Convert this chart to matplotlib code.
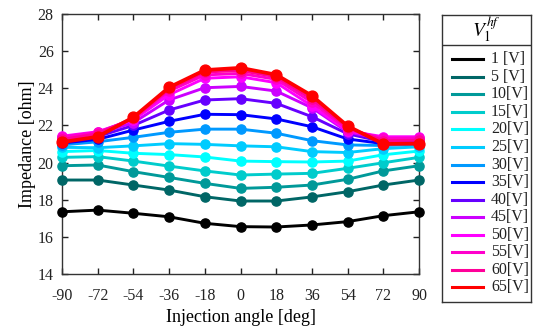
import matplotlib
matplotlib.use("Agg")
import matplotlib.pyplot as plt
from matplotlib.lines import Line2D

angles = [-90, -72, -54, -36, -18, 0, 18, 36, 54, 72, 90]
labels = ["1 [V]", "5 [V]", "10[V]", "15[V]", "20[V]", "25[V]", "30[V]",
          "35[V]", "40[V]", "45[V]", "50[V]", "55[V]", "60[V]", "65[V]"]
colors = ["#000000", "#006666", "#009999", "#00cccc", "#00ffff", "#00ccff",
          "#0099ff", "#0000ff", "#6600ff", "#cc00ff", "#ff00ff", "#ff00cc",
          "#ff0099", "#ff0000"]

v1 = [17.35, 17.44, 17.27, 17.08, 16.73, 16.55, 16.53, 16.64, 16.82, 17.14, 17.35]
v5 = [19.06, 19.06, 18.79, 18.52, 18.16, 17.93, 17.93, 18.15, 18.43, 18.79, 19.06]
v10 = [19.83, 19.87, 19.51, 19.20, 18.88, 18.61, 18.67, 18.79, 19.10, 19.55, 19.83]
v15 = [20.28, 20.32, 20.08, 19.81, 19.55, 19.33, 19.38, 19.42, 19.69, 19.99, 20.28]
v20 = [20.59, 20.65, 20.50, 20.43, 20.30, 20.08, 20.05, 20.03, 20.08, 20.42, 20.62]
v25 = [20.82, 20.80, 20.90, 21.02, 20.98, 20.90, 20.85, 20.59, 20.54, 20.75, 20.85]
v30 = [20.95, 21.12, 21.36, 21.63, 21.80, 21.80, 21.58, 21.18, 20.95, 20.92, 20.98]
v35 = [21.05, 21.25, 21.75, 22.22, 22.60, 22.58, 22.35, 21.93, 21.27, 21.02, 21.05]
v40 = [21.15, 21.40, 22.00, 22.83, 23.37, 23.44, 23.19, 22.47, 21.55, 21.12, 21.12]
v45 = [21.30, 21.55, 22.15, 23.37, 24.03, 24.10, 23.85, 22.95, 21.65, 21.25, 21.25]
v50 = [21.42, 21.66, 22.30, 23.65, 24.54, 24.62, 24.30, 23.05, 21.70, 21.39, 21.39]
v55 = [21.38, 21.62, 22.35, 23.85, 24.72, 24.80, 24.48, 23.25, 21.78, 21.30, 21.32]
v60 = [21.25, 21.55, 22.40, 23.95, 24.88, 24.95, 24.62, 23.42, 21.88, 21.18, 21.20]
v65 = [21.10, 21.39, 22.44, 24.05, 24.98, 25.10, 24.73, 23.60, 21.97, 21.00, 21.02]
series = [v1, v5, v10, v15, v20, v25, v30, v35, v40, v45, v50, v55, v60, v65]

xticks = angles
yticks = [14, 16, 18, 20, 22, 24, 26, 28]

plt.rcParams['font.family'] = ['Liberation Serif', 'DejaVu Serif']
plt.rcParams['mathtext.fontset'] = 'stix'

W, H = 535, 334
fig = plt.figure(figsize=(W / 100, H / 100), dpi=100)
ax = fig.add_axes([62 / W, 1 - 274 / H, (419 - 62) / W, (274 - 14) / H])

for vals, col in zip(series, colors):
    lw = 2.7 if col == "#ff0000" else 2.1
    ms = 7.8 if col == "#ff0000" else 6.6
    ax.plot(angles, vals, color=col, lw=lw, marker='o', ms=ms, mec=col, mfc=col,
            clip_on=False, zorder=3)

ax.set_xlim(-90, 90)
ax.set_ylim(14, 28)
ax.set_xticks(xticks)
ax.set_xticklabels([str(t) for t in xticks])
ax.set_yticks(yticks)
ax.tick_params(direction='in', top=True, right=True, length=4, width=1,
               labelsize=11.5, colors='#222222')
ax.tick_params(axis='x', pad=10)
ax.tick_params(axis='y', pad=6)
for s in ax.spines.values():
    s.set_color('#333333')
    s.set_linewidth(1.0)
ax.set_xlabel("Injection angle [deg]", fontsize=13, labelpad=4)
ax.set_ylabel("Impedance [ohm]", fontsize=13, labelpad=1)

# legend box
lx0, lx1, ly0, ly1 = 442, 531, 15, 302
lax = fig.add_axes([lx0 / W, 1 - ly1 / H, (lx1 - lx0) / W, (ly1 - ly0) / H])
lax.set_xlim(lx0, lx1)
lax.set_ylim(ly1, ly0)
lax.set_xticks([])
lax.set_yticks([])
for s in lax.spines.values():
    s.set_color('#333333')
    s.set_linewidth(1.0)
lax.axhline(44.5, color='#333333', lw=1.0)
lax.text((lx0 + lx1) / 2, 29, r"$V_1^{hf}$", fontsize=14, ha='center', va='center')
y0, dy = 59.3, 17.54
for i, (lab, col) in enumerate(zip(labels, colors)):
    y = y0 + i * dy
    lax.add_line(Line2D([452, 483], [y, y], color=col, lw=2.2))
    lax.text(491, y, lab, fontsize=11.5, ha='left', va='center', color='#222222')

fig.savefig("out.png", dpi=100)
